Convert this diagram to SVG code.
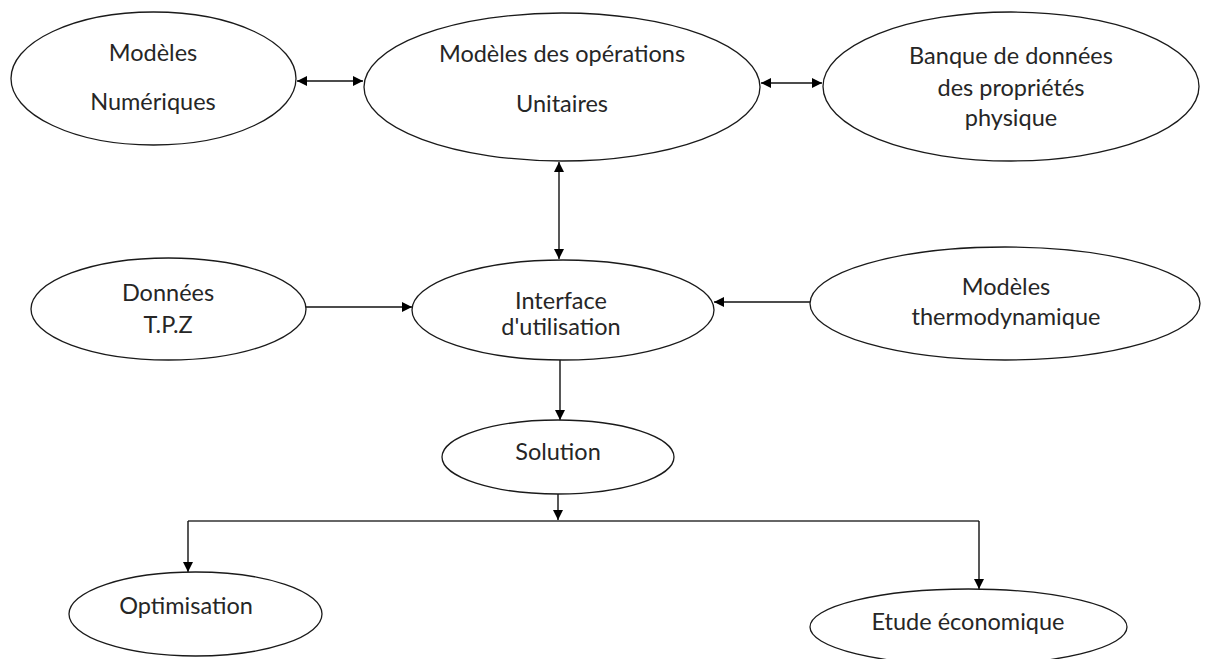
<svg xmlns="http://www.w3.org/2000/svg" width="1208" height="659" viewBox="0 0 1208 659">
  <style>
    .node ellipse { fill: #ffffff; stroke: #1a1a1a; stroke-width: 1.3; }
    .node text { font-family: Lato, "Open Sans", "Liberation Sans", sans-serif; font-size: 23.5px; fill: #262626; text-anchor: middle; }
    .conn { fill: none; stroke: #111111; stroke-width: 1.4; }
    .branch { fill: none; stroke: #666666; stroke-width: 2; }
  </style>
  <defs>
    <marker id="ah" viewBox="0 0 10 10" refX="10" refY="5" markerWidth="11" markerHeight="10" markerUnits="userSpaceOnUse" orient="auto-start-reverse">
      <path d="M0,0 L10,5 L0,10 z" fill="#000000"/>
    </marker>
  </defs>
  <rect width="1208" height="659" fill="#ffffff"/>

  <g id="connectors">
    <line class="conn" x1="297" y1="81" x2="363" y2="81" marker-start="url(#ah)" marker-end="url(#ah)"/>
    <line class="conn" x1="761" y1="83" x2="822" y2="83" marker-start="url(#ah)" marker-end="url(#ah)"/>
    <line class="conn" x1="559" y1="162" x2="559" y2="259" marker-start="url(#ah)" marker-end="url(#ah)"/>
    <line class="conn" x1="306" y1="307" x2="412" y2="307" marker-end="url(#ah)"/>
    <line class="conn" x1="810" y1="302" x2="714" y2="302" marker-end="url(#ah)"/>
    <line class="conn" x1="560" y1="360" x2="560" y2="420" marker-end="url(#ah)"/>
    <line class="conn" x1="558" y1="494" x2="558" y2="520" marker-end="url(#ah)"/>
    <path class="branch" d="M558,521 H188"/>
    <path class="branch" d="M558,521 H979"/>
    <line class="conn" x1="188" y1="521" x2="188" y2="572" marker-end="url(#ah)"/>
    <line class="conn" x1="979" y1="521" x2="979" y2="589" marker-end="url(#ah)"/>
  </g>

  <g id="node-modeles-numeriques" class="node">
    <ellipse cx="153.5" cy="78.5" rx="142.5" ry="66.5"/>
    <text x="153" y="61">Modèles</text>
    <text x="153" y="110">Numériques</text>
  </g>

  <g id="node-modeles-operations" class="node">
    <ellipse cx="562" cy="87" rx="198" ry="74"/>
    <text x="562" y="62">Modèles des opérations</text>
    <text x="562" y="112">Unitaires</text>
  </g>

  <g id="node-banque-donnees" class="node">
    <ellipse cx="1011" cy="86.5" rx="188" ry="74.5"/>
    <text x="1011" y="64">Banque de données</text>
    <text x="1011" y="96">des propriétés</text>
    <text x="1011" y="126">physique</text>
  </g>

  <g id="node-donnees-tpz" class="node">
    <ellipse cx="168.5" cy="309" rx="137.5" ry="51"/>
    <text x="168" y="301">Données</text>
    <text x="168" y="333">T.P.Z</text>
  </g>

  <g id="node-interface" class="node">
    <ellipse cx="563" cy="310" rx="151" ry="50"/>
    <text x="561" y="309">Interface</text>
    <text x="561" y="335">d'utilisation</text>
  </g>

  <g id="node-modeles-thermo" class="node">
    <ellipse cx="1005" cy="303.5" rx="195" ry="56.5"/>
    <text x="1006" y="295">Modèles</text>
    <text x="1006" y="325">thermodynamique</text>
  </g>

  <g id="node-solution" class="node">
    <ellipse cx="558" cy="457" rx="116" ry="37"/>
    <text x="558" y="460">Solution</text>
  </g>

  <g id="node-optimisation" class="node">
    <ellipse cx="195.5" cy="614" rx="126.5" ry="42"/>
    <text x="186" y="614">Optimisation</text>
  </g>

  <g id="node-etude-economique" class="node">
    <ellipse cx="968.5" cy="627" rx="158.5" ry="38"/>
    <text x="968" y="630">Etude économique</text>
  </g>
</svg>
